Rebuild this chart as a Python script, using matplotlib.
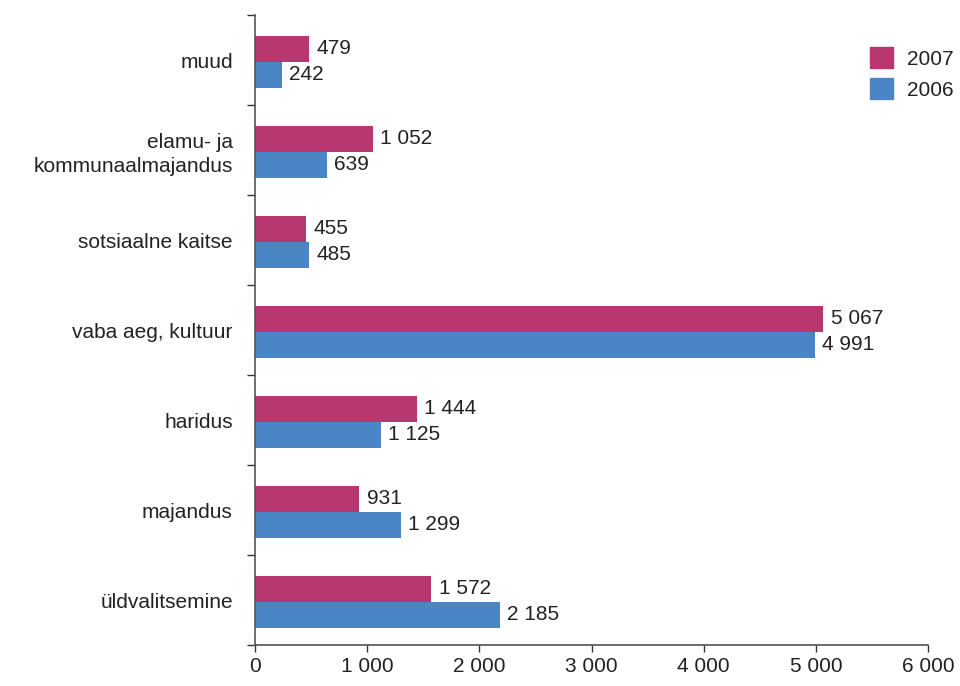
import matplotlib
matplotlib.use("Agg")
import matplotlib.pyplot as plt
import numpy as np
from matplotlib.patches import Patch

categories = ["muud", "elamu- ja\nkommunaalmajandus", "sotsiaalne kaitse",
              "vaba aeg, kultuur", "haridus", "majandus", "üldvalitsemine"]
values_2007 = [479, 1052, 455, 5067, 1444, 931, 1572]
values_2006 = [242, 639, 485, 4991, 1125, 1299, 2185]
x_ticks = [0, 1000, 2000, 3000, 4000, 5000, 6000]

def fmt(v):
    return f"{v:,}".replace(",", " ")

plt.rcParams['font.family'] = ['Liberation Sans', 'DejaVu Sans']
c2007 = "#B83770"
c2006 = "#4A86C5"
txt = "#222222"
fs = 15

fig = plt.figure(figsize=(9.6, 6.86), dpi=100)
ax = fig.add_axes([255/960, 1-645/686, (928-255)/960, (645-15)/686])

n = len(categories)
centers = np.arange(n)[::-1] + 0.5  # top category at top
h = 0.29
ax.barh(centers + h/2 - 0.02, values_2007, height=h, color=c2007, label="2007")
ax.barh(centers - h/2 - 0.02, values_2006, height=h, color=c2006, label="2006")

for c, v in zip(centers, values_2007):
    ax.text(v + 65, c + h/2 - 0.02, fmt(v), va="center", ha="left", fontsize=fs, color=txt)
for c, v in zip(centers, values_2006):
    ax.text(v + 65, c - h/2 - 0.02, fmt(v), va="center", ha="left", fontsize=fs, color=txt)

ax.set_xlim(0, 6000)
ax.set_ylim(0, n)
ax.set_xticks(x_ticks)
ax.set_xticklabels([fmt(t) for t in x_ticks], fontsize=fs, color=txt)
ax.set_yticks(np.arange(n + 1))
ax.set_yticklabels([])
ax.set_yticks(centers, minor=True)
ax.set_yticklabels(categories, minor=True, fontsize=fs, color=txt, linespacing=1.35)
ax.tick_params(axis="y", which="minor", length=0, pad=16)
ax.tick_params(axis="y", which="major", length=6, width=1, color="#333333")
ax.tick_params(axis="x", length=5, width=1, color="#333333", pad=4)

for s in ["top", "right"]:
    ax.spines[s].set_visible(False)
for s in ["left", "bottom"]:
    ax.spines[s].set_color("#555555")
    ax.spines[s].set_linewidth(1.2)

handles = [Patch(color=c2007, label="2007"), Patch(color=c2006, label="2006")]
fig.legend(handles=handles, loc="upper left", bbox_to_anchor=(870/960, 1-47/686),
           frameon=False, fontsize=fs, handlelength=1.1, handleheight=1.2,
           handletextpad=0.7, labelspacing=0.45, labelcolor=txt,
           borderpad=0, borderaxespad=0)

fig.savefig("out.png", dpi=100)
